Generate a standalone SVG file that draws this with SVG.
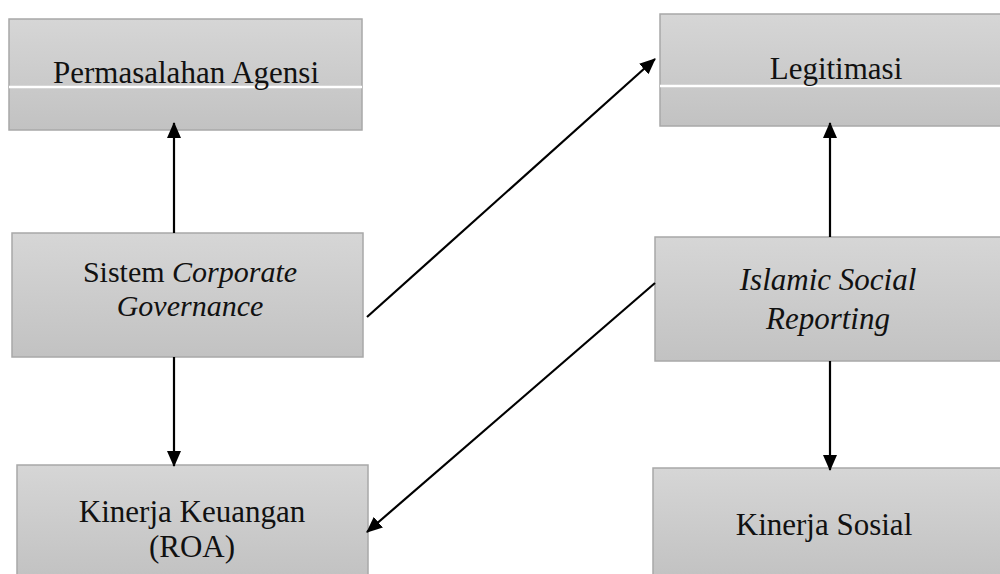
<svg xmlns="http://www.w3.org/2000/svg" width="1000" height="574" viewBox="0 0 1000 574">
<style>
.box{fill:url(#g);stroke:#a8a8a8;stroke-width:1.5}
.t{font-family:"Liberation Serif","Times New Roman",serif;font-size:31px;fill:#111;text-anchor:middle}
.i{font-style:italic}
.c{stroke:#000;stroke-width:2.2;fill:none;marker-end:url(#ah)}
.sep{stroke:#fff;stroke-width:2.5}
</style>
<defs>
<linearGradient id="g" x1="0" y1="0" x2="0" y2="1">
<stop offset="0" stop-color="#d6d6d6"/>
<stop offset="1" stop-color="#c2c2c2"/>
</linearGradient>
<marker id="ah" viewBox="0 0 16 14" refX="15" refY="7" markerWidth="16" markerHeight="14" orient="auto" markerUnits="userSpaceOnUse">
<path d="M0,0 L16,7 L0,14 Z" fill="#000"/>
</marker>
</defs>
<g id="n-permasalahan">
<rect class="box" x="9" y="19" width="353" height="111"/>
<line class="sep" x1="9" y1="87" x2="362" y2="87"/>
<text class="t" x="186" y="83">Permasalahan Agensi</text>
</g>
<g id="n-legitimasi">
<rect class="box" x="660" y="14" width="342" height="112"/>
<line class="sep" x1="660" y1="86" x2="1002" y2="86"/>
<text class="t" x="836" y="79">Legitimasi</text>
</g>
<g id="n-sistem">
<rect class="box" x="12" y="233" width="351" height="124"/>
<text class="t" x="190" y="282" style="font-size:30px">Sistem <tspan class="i">Corporate</tspan></text>
<text class="t i" x="190" y="316" style="font-size:30px">Governance</text>
</g>
<g id="n-isr">
<rect class="box" x="655" y="237" width="347" height="124"/>
<text class="t i" x="828" y="290">Islamic Social</text>
<text class="t i" x="828" y="329">Reporting</text>
</g>
<g id="n-kinerja-keuangan">
<rect class="box" x="17" y="465" width="351" height="112"/>
<text class="t" x="192" y="522">Kinerja Keuangan</text>
<text class="t" x="192" y="557">(ROA)</text>
</g>
<g id="n-kinerja-sosial">
<rect class="box" x="653" y="468" width="349" height="109"/>
<text class="t" x="824" y="535">Kinerja Sosial</text>
</g>
<g id="connectors">
<line class="c" x1="174" y1="233" x2="174" y2="123"/>
<line class="c" x1="174" y1="357" x2="174" y2="466"/>
<line class="c" x1="830" y1="237" x2="830" y2="123"/>
<line class="c" x1="830" y1="361" x2="830" y2="470"/>
<line class="c" x1="367" y1="317" x2="655" y2="59"/>
<line class="c" x1="655" y1="283" x2="367" y2="532"/>
</g>
</svg>
